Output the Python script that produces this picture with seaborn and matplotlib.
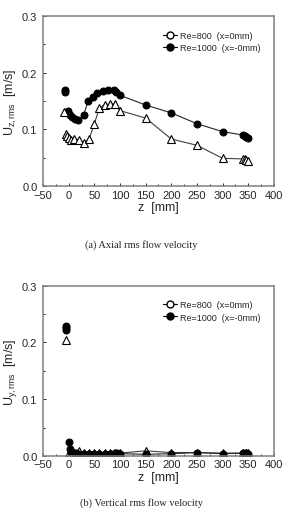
import matplotlib
matplotlib.use("Agg")
import matplotlib.pyplot as plt
from matplotlib.lines import Line2D
from matplotlib.ticker import MultipleLocator
import seaborn as sns

# (a) axial rms, connected series
z800_a = [-5, -3, 0, 5, 10, 20, 30, 40, 50, 60, 70, 80, 90, 100, 150, 200, 250, 300, 340, 343, 346, 350]
u800_a = [0.092, 0.088, 0.085, 0.082, 0.083, 0.082, 0.076, 0.083, 0.110, 0.138, 0.143, 0.145, 0.145, 0.133,
          0.120, 0.083, 0.072, 0.049, 0.048, 0.047, 0.046, 0.044]
z1000_a = [-2, 3, 6, 12, 19, 29, 38, 47, 56, 66, 77, 88, 93, 100, 150, 200, 250, 300, 340, 343, 346, 350]
u1000_a = [0.132, 0.126, 0.122, 0.118, 0.116, 0.125, 0.150, 0.157, 0.164, 0.168, 0.170, 0.169, 0.165, 0.160,
           0.143, 0.129, 0.110, 0.096, 0.090, 0.089, 0.087, 0.084]
# (a) isolated upstream points
z800_a0 = [-10]
u800_a0 = [0.130]
z1000_a0 = [-8, -8]
u1000_a0 = [0.169, 0.165]

# (b) vertical rms, connected series
z800_b = [0, 5, 10, 20, 30, 40, 50, 60, 70, 80, 90, 100, 150, 200, 250, 300, 340, 345, 350]
u800_b = [0.006, 0.005, 0.006, 0.008, 0.006, 0.006, 0.006, 0.006, 0.006, 0.006, 0.006, 0.005,
          0.009, 0.006, 0.006, 0.005, 0.005, 0.005, 0.005]
z1000_b = [0, 2, 5, 10, 15, 20, 30, 40, 50, 60, 70, 80, 90, 95, 100, 150, 200, 250, 300, 340, 345, 350]
u1000_b = [0.024, 0.012, 0.007, 0.005, 0.005, 0.004, 0.004, 0.004, 0.004, 0.004, 0.004, 0.004, 0.005,
           0.005, 0.004, 0.003, 0.004, 0.006, 0.004, 0.005, 0.005, 0.004]
z800_b0 = [-5]
u800_b0 = [0.204]
z1000_b0 = [-5, -5, -5]
u1000_b0 = [0.229, 0.225, 0.221]

labels = ["Re=800  (x=0mm)", "Re=1000  (x=-0mm)"]

sns.set_style("white")
plt.rcParams['font.family'] = ['Liberation Sans', 'DejaVu Sans']
plt.rcParams['mathtext.fontset'] = 'custom'
plt.rcParams['mathtext.rm'] = 'Liberation Sans'
plt.rcParams['mathtext.it'] = 'Liberation Sans'

fig = plt.figure(figsize=(2.83, 5.10), dpi=100)
ax_a = fig.add_axes([0.152, 0.633, 0.816, 0.334])
ax_b = fig.add_axes([0.152, 0.104, 0.816, 0.334])

tri = dict(marker="^", markersize=5.5, markerfacecolor="white", markeredgecolor="black",
           markeredgewidth=0.8, color="0.25", linewidth=0.8)
dot = dict(marker="o", markersize=5, markerfacecolor="black", markeredgecolor="black",
           color="0.15", linewidth=0.8)


def draw(ax, z8, u8, z10, u10, z8i, u8i, z10i, u10i):
    sns.lineplot(x=z8, y=u8, ax=ax, estimator=None, sort=False, **tri)
    sns.lineplot(x=z10, y=u10, ax=ax, estimator=None, sort=False, **dot)
    # upstream points are not joined to the rest
    sns.lineplot(x=z8i, y=u8i, ax=ax, estimator=None, sort=False, linestyle="none",
                 **{k: v for k, v in tri.items() if k != "linewidth"})
    sns.lineplot(x=z10i, y=u10i, ax=ax, estimator=None, sort=False, linestyle="none",
                 **{k: v for k, v in dot.items() if k != "linewidth"})
    ax.set_xlim(-50, 400)
    ax.set_ylim(0, 0.3)
    ax.xaxis.set_major_locator(MultipleLocator(50))
    ax.xaxis.set_minor_locator(MultipleLocator(25))
    ax.yaxis.set_major_locator(MultipleLocator(0.1))
    ax.yaxis.set_minor_locator(MultipleLocator(0.05))
    ax.tick_params(which="both", direction="in", labelsize=8, length=2.5, width=0.7,
                   bottom=True, left=True)
    ax.tick_params(axis="x", pad=2.5)
    ax.tick_params(axis="y", pad=4)
    ax.tick_params(which="minor", length=1.5)
    for s in ax.spines.values():
        s.set_color("0.5")
        s.set_linewidth(1.1)
    ax.set_xlabel("z  [mm]", fontsize=9, labelpad=1)
    handles = [
        Line2D([0], [0], marker="o", markersize=5, markerfacecolor="white", markeredgecolor="black",
               color="black", linewidth=0.8),
        Line2D([0], [0], marker="o", markersize=5, markerfacecolor="black", markeredgecolor="black",
               color="black", linewidth=0.8),
    ]
    ax.legend(handles, labels, loc="upper right", bbox_to_anchor=(0.97, 0.95), frameon=False,
              fontsize=6.5, handlelength=1.6, handletextpad=0.3, labelspacing=0.35, borderpad=0.2)


draw(ax_a, z800_a, u800_a, z1000_a, u1000_a, z800_a0, u800_a0, z1000_a0, u1000_a0)
draw(ax_b, z800_b, u800_b, z1000_b, u1000_b, z800_b0, u800_b0, z1000_b0, u1000_b0)

ax_a.set_ylabel(r"U$_{z,rms}$  [m/s]", fontsize=9, labelpad=2)
ax_b.set_ylabel(r"U$_{y,rms}$  [m/s]", fontsize=9, labelpad=2)

fig.text(0.5, 1 - 245 / 510, "(a) Axial rms flow velocity", ha="center", va="center",
         fontsize=7.5, family="Liberation Serif")
fig.text(0.5, 1 - 503 / 510, "(b) Vertical rms flow velocity", ha="center", va="center",
         fontsize=7.5, family="Liberation Serif")

fig.savefig("out.png", dpi=100, facecolor="white")
